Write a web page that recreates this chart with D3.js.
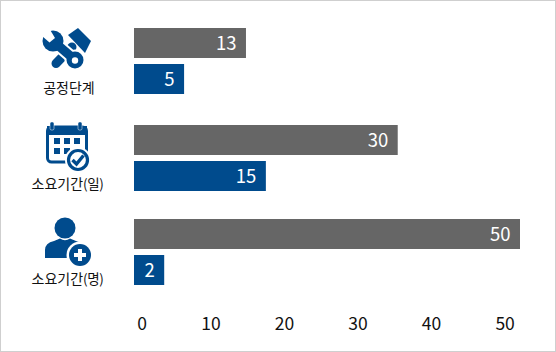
<!DOCTYPE html>
<html><head><meta charset="utf-8">
<script src="https://cdn.jsdelivr.net/npm/d3@7/dist/d3.min.js"></script>
<style>
html,body{margin:0;padding:0;background:#fff}
svg{display:block}
text{font-family:"Noto Sans CJK KR","Noto Sans",sans-serif}
</style></head><body>
<svg id="c" width="556" height="352"></svg>
<script>
const categories = ["공정단계", "소요기간(일)", "소요기간(명)"];
const tickValues = [0, 10, 20, 30, 40, 50];
// bar lengths as read against the axis; printed labels differ in the original
const greyLengths = [15.2, 35.8, 52.4];
const blueLengths = [6.8, 17.9, 4.1];
const greyLabels = [13, 30, 50];
const blueLabels = [5, 15, 2];

const GREY = "#666666", BLUE = "#004b8d", BORDER = "#cfcfcf";
const svg = d3.select("#c");
svg.append("rect").attr("x",.5).attr("y",.5).attr("width",555).attr("height",351)
  .attr("fill","#fff").attr("stroke",BORDER).attr("stroke-width",1);

const x = d3.scaleLinear().domain([0, 52.4]).range([134, 520]);
const axisX = d3.scaleLinear().domain([0, 10, 50]).range([141.5, 210.5, 504.6]);
const groupY = d3.scaleOrdinal().domain(categories).range([28, 125, 219]);
const barH = 30, gap = 6;

const rows = categories.map((c,i)=>({c,i}));
const g = svg.selectAll("g.row").data(rows).join("g").attr("class","row")
  .attr("transform",d=>`translate(0,${groupY(d.c)})`);

function bars(lengths, labels, color, offset){
  g.append("rect").attr("x",x(0)).attr("y",offset).attr("height",barH)
    .attr("width",d=>x(lengths[d.i])-x(0)).attr("fill",color);
  g.append("text").attr("x",d=>x(lengths[d.i])-9.5).attr("y",offset+barH/2+7)
    .attr("text-anchor","end").attr("font-size",18.5).attr("fill","#fff")
    .text(d=>labels[d.i]);
}
bars(greyLengths, greyLabels, GREY, 0);
bars(blueLengths, blueLabels, BLUE, barH+gap);

// category labels
const labelBase = [93, 189, 284];
const cat = svg.selectAll("text.cat").data(categories).join("text").attr("class","cat")
  .attr("x",(d,i)=>i===0?69:67.5).attr("y",(d,i)=>labelBase[i])
  .attr("text-anchor","middle").attr("font-size",14).attr("fill","#111");
cat.append("tspan").text(d=>d.split("(")[0]);
cat.append("tspan").attr("font-size",13.5).attr("letter-spacing",-0.4)
  .text(d=>d.includes("(")?"("+d.split("(")[1]:"");

// axis
const ax = svg.append("g").attr("transform","translate(0,318)")
  .call(d3.axisBottom(axisX).tickValues(tickValues).tickSize(0).tickPadding(0).tickFormat(d3.format("d")));
ax.select(".domain").remove();
ax.selectAll("text").attr("font-size",17.5).attr("fill","#111")
  .style("font-family",'"Noto Sans CJK KR"');

// icons
const ic = svg.append("g").attr("fill",BLUE);
// tools
const t = ic.append("g");
t.append("line").attr("x1",72).attr("y1",47).attr("x2",56).attr("y2",63.5)
  .attr("stroke",BLUE).attr("stroke-width",9).attr("stroke-linecap","round");
t.append("path").attr("d","M78 28 L91 41 L85 53 L68 35 Z");
t.append("line").attr("x1",53).attr("y1",41).attr("x2",75).attr("y2",60)
  .attr("stroke","#fff").attr("stroke-width",13);
t.append("circle").attr("cx",75).attr("cy",60).attr("r",10.5).attr("fill","#fff");
t.append("circle").attr("cx",53).attr("cy",41).attr("r",10.5);
t.append("line").attr("x1",53).attr("y1",41).attr("x2",75).attr("y2",60)
  .attr("stroke",BLUE).attr("stroke-width",9);
t.append("circle").attr("cx",75).attr("cy",60).attr("r",8.5);
t.append("circle").attr("cx",75).attr("cy",60.5).attr("r",3.2).attr("fill","#fff");
t.append("path").attr("d","M42 36 L49.5 42.5 L55 38 L49 28 L40 28 Z").attr("fill","#fff");
// calendar
const k = ic.append("g");
k.append("rect").attr("x",47.5).attr("y",127).attr("width",39).attr("height",35).attr("rx",4)
  .attr("fill","none").attr("stroke",BLUE).attr("stroke-width",3);
k.append("rect").attr("x",47).attr("y",126).attr("width",40).attr("height",9);
[52,80].forEach(cx=>{k.append("rect").attr("x",cx-2).attr("y",122).attr("width",4).attr("height",8).attr("rx",1.5)
  .attr("stroke","#fff").attr("stroke-width",.5);});
[[54,138],[64,138],[74,138],[54,148],[64,148]].forEach(p=>{
  k.append("rect").attr("x",p[0]).attr("y",p[1]).attr("width",6).attr("height",6);});
k.append("circle").attr("cx",78).attr("cy",160).attr("r",13).attr("fill","#fff");
k.append("circle").attr("cx",78).attr("cy",160).attr("r",9.5).attr("fill","#fff").attr("stroke",BLUE).attr("stroke-width",3.2);
k.append("path").attr("d","M72.5 160 L76.5 164 L83.5 155.5").attr("fill","none").attr("stroke",BLUE).attr("stroke-width",3.4);
// person
const p = ic.append("g");
p.append("circle").attr("cx",65).attr("cy",228).attr("r",10.5);
p.append("path").attr("d","M45 258 L45 250 Q45 243 54 241 L60 238.5 Q65 242 70 238.5 L76 241 Q84 243 84 250 L84 258 Z");
p.append("circle").attr("cx",80).attr("cy",255).attr("r",13.5).attr("fill","#fff");
p.append("circle").attr("cx",80).attr("cy",255).attr("r",11);
p.append("rect").attr("x",74).attr("y",253).attr("width",12).attr("height",4).attr("fill","#fff");
p.append("rect").attr("x",78).attr("y",249).attr("width",4).attr("height",12).attr("fill","#fff");
</script>
</body></html>
